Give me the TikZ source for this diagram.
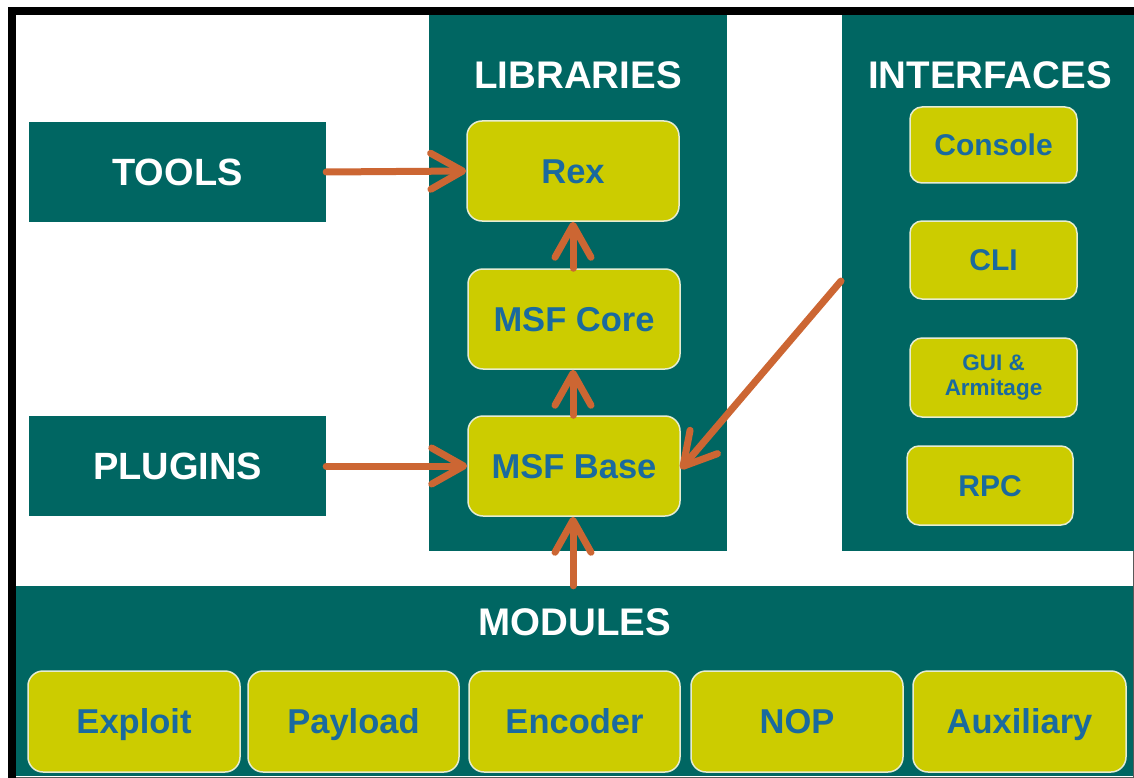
\documentclass[tikz,border=0pt]{standalone}
\usepackage{fontspec}
\setmainfont{Liberation Sans}
\usetikzlibrary{arrows.meta}
\definecolor{teal0}{RGB}{0,102,98}
\definecolor{ylw}{RGB}{204,204,0}
\definecolor{txtblue}{RGB}{26,106,158}
\definecolor{orng}{RGB}{204,102,51}
\definecolor{edge}{RGB}{230,236,210}
\tikzset{
  panel/.style={fill=teal0, draw=none, inner sep=0pt},
  tealbox/.style={fill=teal0, draw=none, inner sep=0pt, text=white,
    text height=27.2pt, text depth=0pt,
    font=\bfseries\fontsize{38}{40}\selectfont},
  title/.style={text=white, inner sep=0pt, text height=27.6pt, text depth=0pt,
    font=\bfseries\fontsize{38.5}{40}\selectfont},
  ybox/.style={fill=ylw, draw=edge, line width=1.5pt, rounded corners=15pt, inner sep=0pt,
    text=txtblue, text height=24.7pt, text depth=0pt,
    font=\bfseries\fontsize{34.5}{36}\selectfont},
  ibox/.style={ybox, rounded corners=12pt, minimum width=167pt, text height=21.5pt,
    font=\bfseries\fontsize{30}{32}\selectfont},
  conn/.style={draw=orng, line width=7pt, line cap=round,
    -{Straight Barb[length=32pt,width=36pt,round]}},
}
\begin{document}
\begin{tikzpicture}[x=1pt,y=-1pt]
\useasboundingbox (0,0) rectangle (1134,778);
\fill[white] (0,0) rectangle (1134,778);
% frame
\fill[black] (8,7) rectangle (16,778);
\fill[black] (8,7) rectangle (1134,15);
\draw[gray!70!black, line width=1.5pt] (1133.25,15) -- (1133.25,777.25) -- (16,777.25);

% panels
\node[panel, minimum width=298pt, minimum height=536pt] (libp) at (578,283) {};
\node[panel, minimum width=292pt, minimum height=536pt] (ifp) at (988,283) {};
\node[panel, minimum width=1117pt, minimum height=190pt] (modp) at (574.5,681) {};

\node[tealbox, minimum width=297pt, minimum height=100pt] (tools) at (177.5,172) {TOOLS};
\node[tealbox, minimum width=297pt, minimum height=100pt] (plugins) at (177.5,466) {PLUGINS};

\node[title] (libt) at (578,75) {LIBRARIES};
\node[title] (ift) at (990,75) {INTERFACES};
\node[title] (modt) at (575,622) {MODULES};

% library boxes
\node[ybox, minimum width=212pt, minimum height=100pt] (rex) at (573,171) {Rex};
\node[ybox, minimum width=212pt, minimum height=100pt] (core) at (574,319) {MSF Core};
\node[ybox, minimum width=212pt, minimum height=100pt] (base) at (574,466) {MSF Base};

% interface boxes
\node[ibox, minimum height=76pt] (console) at (993.5,145) {Console};
\node[ibox, minimum height=78pt] (cli) at (993.5,260) {CLI};
\node[ibox, minimum height=79pt, align=center, text height=, text depth=,
  font=\bfseries\fontsize{22.5}{25}\selectfont] (gui) at (993.5,377.5) {GUI \&\\Armitage};
\node[ibox, minimum width=166pt, minimum height=79pt] (rpc) at (990,485.5) {RPC};

% module boxes
\node[ybox, minimum width=212pt, minimum height=101pt] (exploit) at (134,721.5) {Exploit};
\node[ybox, minimum width=211pt, minimum height=101pt] (payload) at (353.5,721.5) {Payload};
\node[ybox, minimum width=211pt, minimum height=101pt] (encoder) at (574.5,721.5) {Encoder};
\node[ybox, minimum width=212pt, minimum height=101pt] (nop) at (797,721.5) {NOP};
\node[ybox, minimum width=213pt, minimum height=101pt] (aux) at (1019.5,721.5) {Auxiliary};

% connectors
\coordinate (ifstart) at (841,281);
\draw[conn] (tools.east) -- (rex.west);
\draw[conn] (plugins.east) -- (base.west);
\draw[conn] (core.north -| rex.south) -- (rex.south);
\draw[conn] (base.north -| rex.south) -- (core.south -| rex.south);
\draw[conn] (modp.north -| rex.south) -- (base.south -| rex.south);
\draw[conn] (ifstart) -- ([yshift=-3pt]base.east);
\end{tikzpicture}
\end{document}
